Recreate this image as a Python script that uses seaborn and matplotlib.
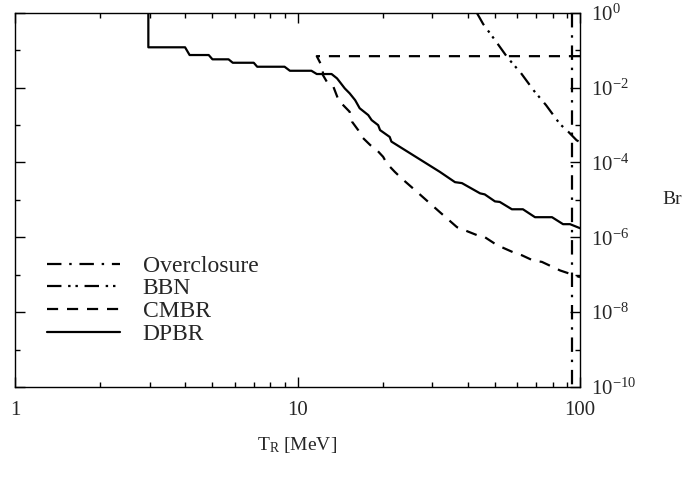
import numpy as np
import pandas as pd
import seaborn as sns
import matplotlib.pyplot as plt
from matplotlib.ticker import FixedLocator, NullFormatter, LogLocator

# Data (T_R in MeV, Br)
dpbr_x = [2.965, 2.965, 4.0, 4.15, 4.85, 5.0, 5.7, 5.9, 7.0, 7.2, 9.0, 9.4, 11.2, 11.7,
          13.2, 13.8, 14.1, 14.7, 15.3, 16.0, 16.6, 17.8, 18.3, 19.3, 19.6, 21.2, 21.5,
          31.9, 36.1, 38.2, 44.3, 46.0, 50.0, 52.0, 57.4, 62.8, 69.3, 79.6, 87.1, 92.2, 100.0]
dpbr_y = [1.0, 0.119, 0.119, 0.074, 0.074, 0.0568, 0.0568, 0.046, 0.046, 0.036, 0.036,
          0.0281, 0.0281, 0.023, 0.023, 0.0176, 0.0143, 0.0095, 0.0070, 0.0046, 0.0028,
          0.00184, 0.00135, 0.00099, 0.00073, 0.00048, 0.00036, 5.6e-5, 2.97e-5, 2.8e-5,
          1.49e-5, 1.4e-5, 9.1e-6, 8.8e-6, 5.6e-6, 5.6e-6, 3.44e-6, 3.44e-6, 2.24e-6,
          2.24e-6, 1.75e-6]

cmbr_x = [100.0, 11.7, 12.3, 12.3, 12.7, 13.4, 13.9, 14.3, 15.3, 15.6, 16.4, 16.9, 18.1,
          19.1, 20.1, 20.7, 22.1, 23.4, 26.1, 31.9, 36.7, 43.2, 46.1, 50.8, 57.9, 62.3,
          68.2, 73.3, 80.2, 85.0, 100.0]
cmbr_y = [0.069, 0.069, 0.033, 0.0216, 0.0143, 0.0105, 0.0051, 0.0038, 0.00225, 0.00122,
          0.00073, 0.00048, 0.00029, 0.000213, 0.000141, 9.4e-5, 5.6e-5, 3.7e-5, 1.8e-5,
          4.7e-6, 1.86e-6, 1.14e-6, 1.0e-6, 6.2e-7, 4.0e-7, 3.3e-7, 2.4e-7, 2.2e-7,
          1.6e-7, 1.3e-7, 8.6e-8]

bbn_x = [43.1, 45.4, 50.0, 55.4, 61.8, 68.8, 75.8, 84.9, 90.9, 97.3, 100.0]
bbn_y = [1.0, 0.50, 0.186, 0.063, 0.0244, 0.0081, 0.0034, 0.00106, 0.00066, 0.00039, 0.00035]

over_x = [93.5, 93.5]
over_y = [1.0, 1e-10]

x_ticks = [1, 10, 100]
x_tick_labels = ['1', '10', '100']
y_major = [1e-10, 1e-8, 1e-6, 1e-4, 1e-2, 1e0]
y_major_labels = ['10$^{-10}$', '10$^{-8}$', '10$^{-6}$', '10$^{-4}$', '10$^{-2}$', '10$^{0}$']
y_minor = [1e-9, 1e-7, 1e-5, 1e-3, 1e-1]

sns.set_style('white')
plt.rcParams['font.family'] = ['Liberation Serif', 'DejaVu Serif']
plt.rcParams['mathtext.fontset'] = 'custom'
plt.rcParams['mathtext.rm'] = 'Liberation Serif'
plt.rcParams['mathtext.it'] = 'Liberation Serif:italic'

fig = plt.figure(figsize=(6.87, 4.79), dpi=100)
ax = fig.add_axes([15 / 687, 1 - 387 / 479, 565 / 687, (387 - 12.7) / 479])

lw = 1.6
sns.lineplot(x=dpbr_x, y=dpbr_y, ax=ax, color='black', lw=lw, sort=False,
             estimator=None, label='DPBR')
sns.lineplot(x=cmbr_x, y=cmbr_y, ax=ax, color='black', lw=lw, sort=False,
             estimator=None, label='CMBR', linestyle=(0, (5.0, 4.0)))
sns.lineplot(x=bbn_x, y=bbn_y, ax=ax, color='black', lw=lw, sort=False,
             estimator=None, label='BBN', linestyle=(0, (6.5, 3, 1.1, 2.2, 1.1, 3)))
sns.lineplot(x=over_x, y=over_y, ax=ax, color='black', lw=lw, sort=False,
             estimator=None, label='Overclosure', linestyle=(0, (6.5, 3.5, 1.1, 3.5)))

ax.set_xscale('log')
ax.set_yscale('log')
ax.set_xlim(1, 100)
ax.set_ylim(1e-10, 1)

ax.xaxis.set_major_locator(FixedLocator(x_ticks))
ax.set_xticklabels(x_tick_labels)
ax.xaxis.set_minor_locator(LogLocator(base=10, subs=np.arange(2, 10)))
ax.xaxis.set_minor_formatter(NullFormatter())
ax.yaxis.set_major_locator(FixedLocator(y_major))
ax.set_yticklabels(y_major_labels)
ax.yaxis.set_minor_locator(FixedLocator(y_minor))
ax.yaxis.set_minor_formatter(NullFormatter())

ax.tick_params(axis='both', which='both', direction='in', color='black',
               top=True, bottom=True, left=True, right=True, width=1)
ax.tick_params(axis='y', which='both', labelleft=False, labelright=True)
ax.tick_params(which='major', length=7)
ax.tick_params(which='minor', length=3.5)
ax.tick_params(axis='x', which='major', pad=10, labelsize=15)
ax.tick_params(axis='y', which='major', pad=8, labelsize=15)

for s in ax.spines.values():
    s.set_color('black')
    s.set_linewidth(1.0)

ax.set_xlabel('T$_{\\mathrm{R}}$ [MeV]', fontsize=14, labelpad=11)
ax.yaxis.set_label_position('right')
ax.set_ylabel('Br', fontsize=14, rotation=0, va='center', ha='center')
ax.yaxis.set_label_coords((672 - 15) / 565, 0.5)

handles, labels = ax.get_legend_handles_labels()
order = ['Overclosure', 'BBN', 'CMBR', 'DPBR']
h = [handles[labels.index(n)] for n in order]
ax.legend(h, order, loc='upper left', bbox_to_anchor=(0.0566, 0.352), frameon=False,
          fontsize=17, handlelength=3.1, handletextpad=0.95, labelspacing=0.05,
          borderpad=0, borderaxespad=0)

plt.savefig('out.png', dpi=100)
